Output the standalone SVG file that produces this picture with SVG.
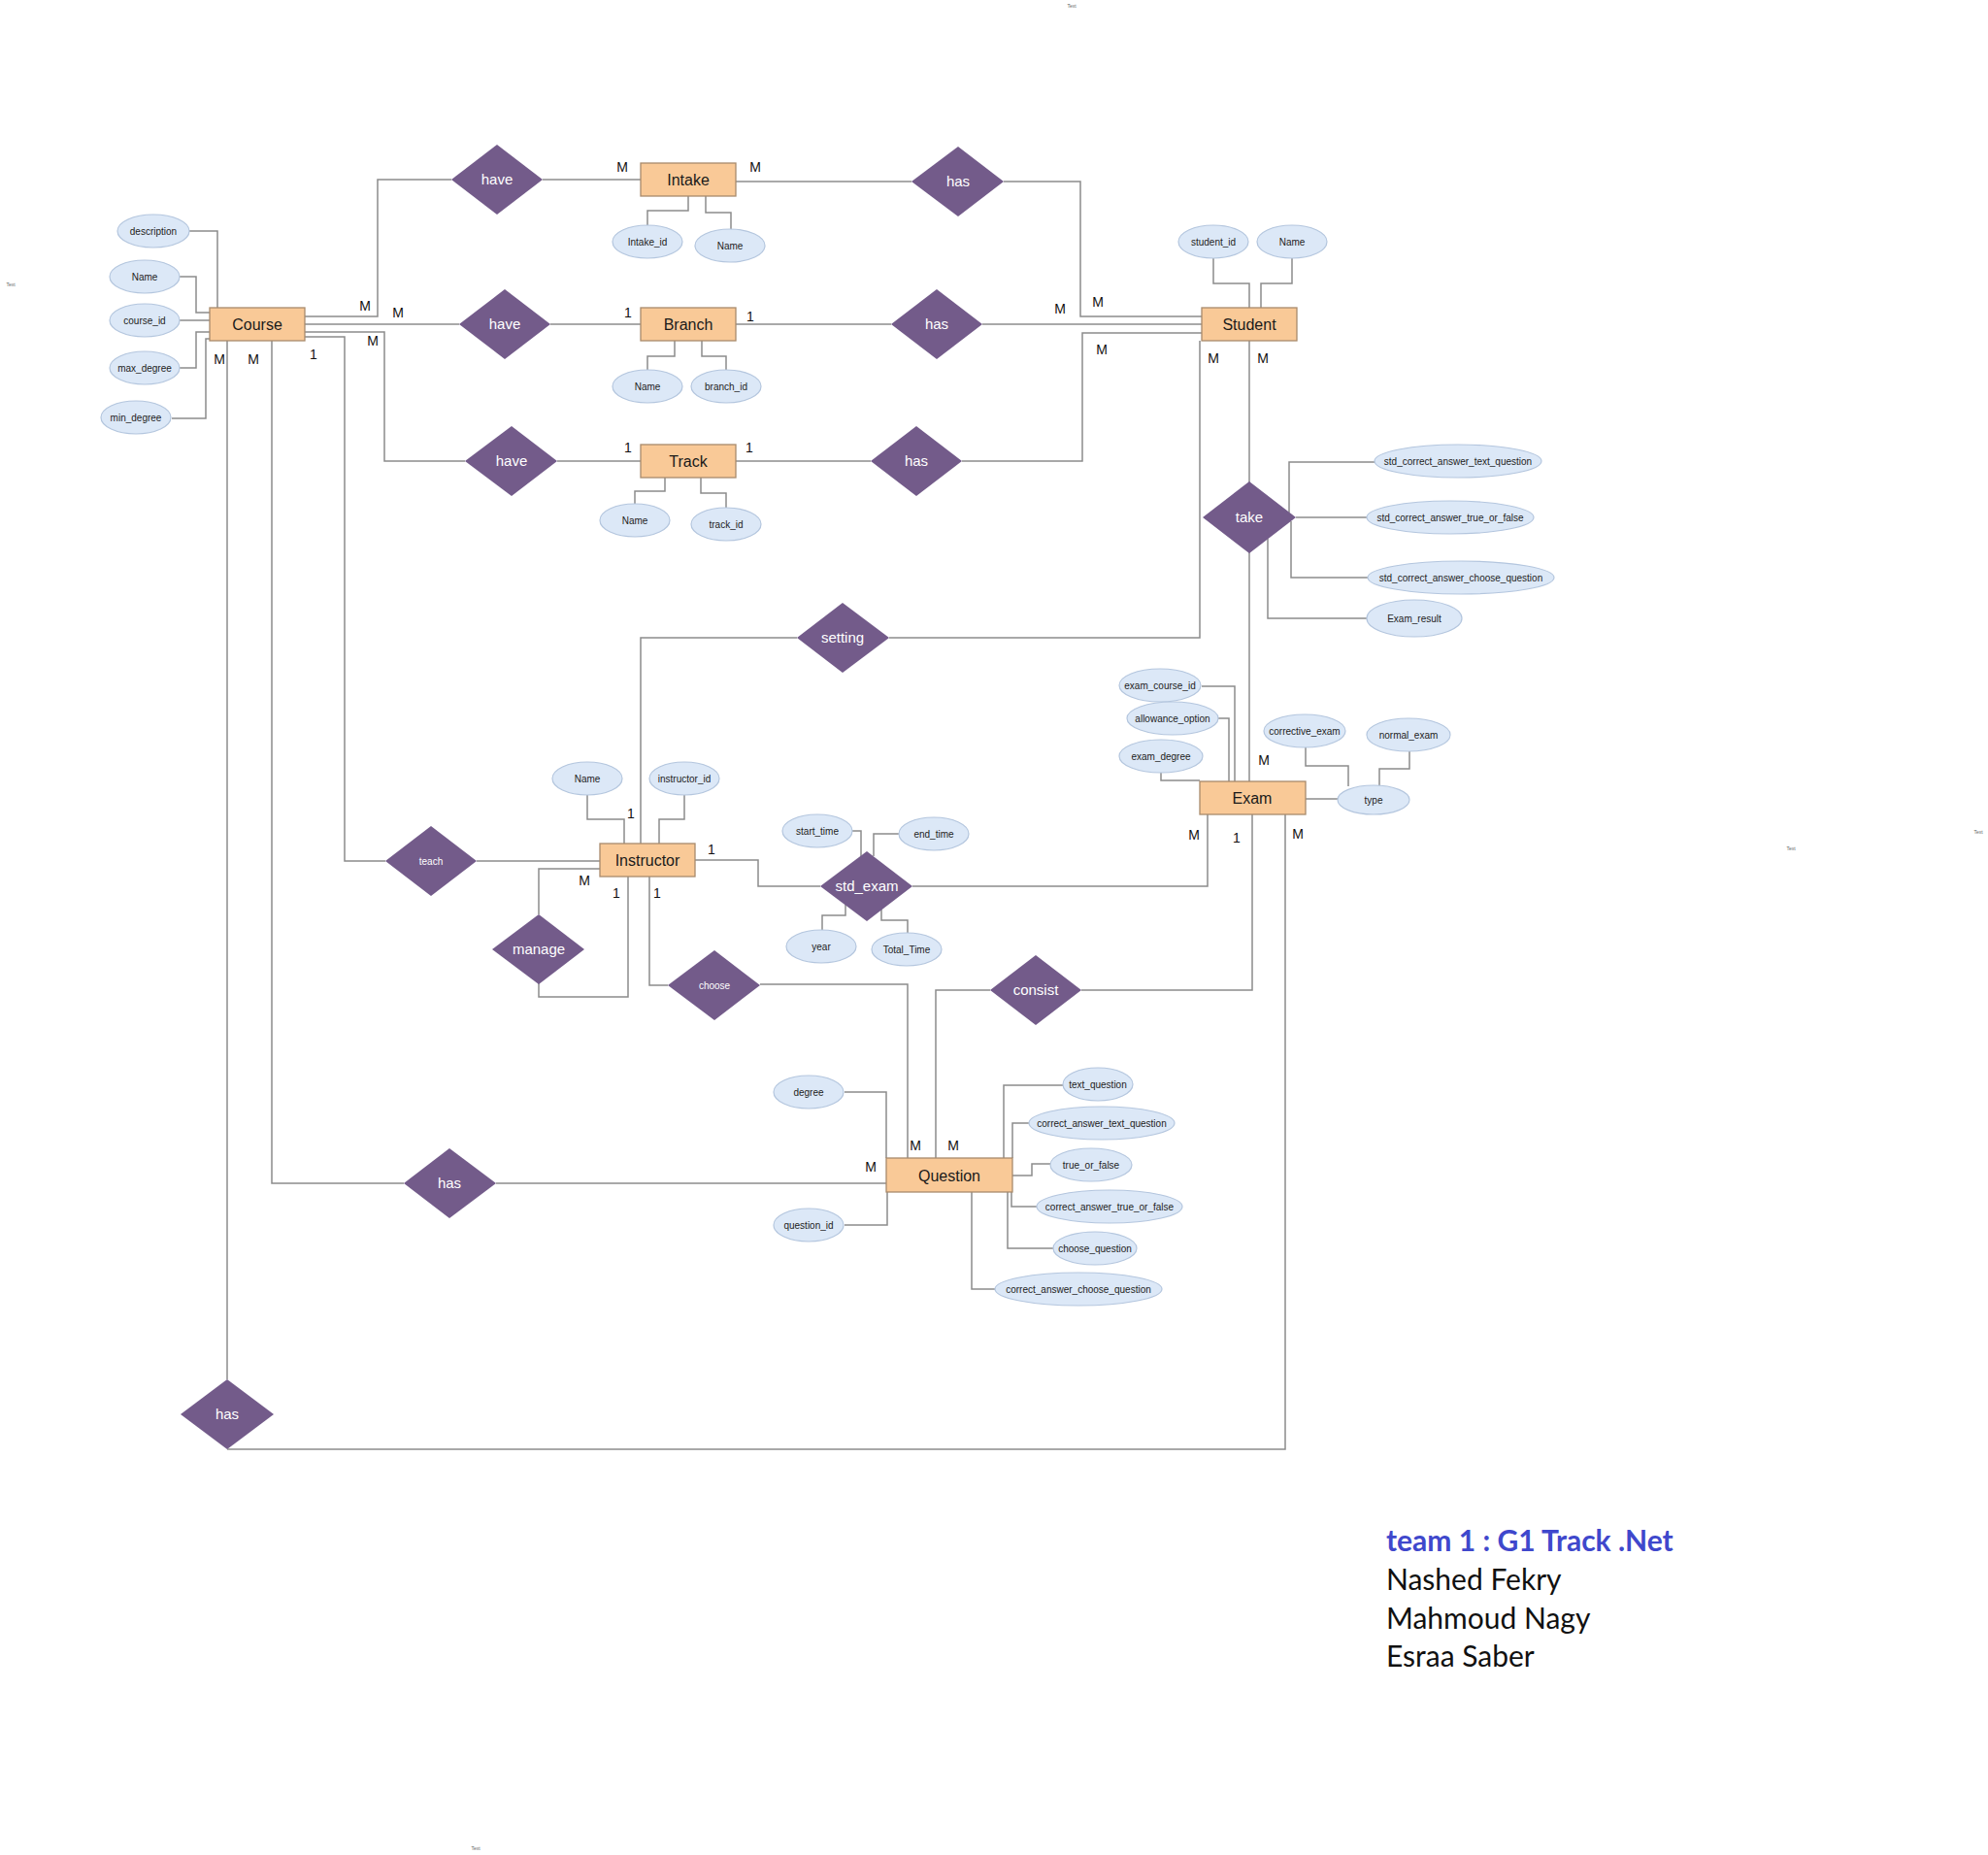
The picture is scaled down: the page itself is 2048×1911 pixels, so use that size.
<svg xmlns="http://www.w3.org/2000/svg" width="2048" height="1911" viewBox="0 0 2048 1911">
  <style>
    .ent rect { fill: #f9c997; stroke: #a88a6c; stroke-width: 1.3; }
    .ent text { font-family: "Liberation Sans", Arial, sans-serif; font-size: 16px; fill: #1a1a1a; text-anchor: middle; }
    .att ellipse { fill: #dce8f7; stroke: #b4c6de; stroke-width: 1.2; }
    .att text { font-family: "Liberation Sans", Arial, sans-serif; font-size: 10px; fill: #222; text-anchor: middle; }
    .rel polygon { fill: #735b8a; stroke: none; }
    .rel text { font-family: "Liberation Sans", Arial, sans-serif; font-size: 15px; fill: #ffffff; text-anchor: middle; }
    .rel text.sm { font-size: 10px; }
    #connectors polyline { fill: none; stroke: #8c8c8c; stroke-width: 1.5; }
    .card { font-family: "Liberation Sans", Arial, sans-serif; font-size: 14px; fill: #111; text-anchor: middle; }
    .tiny { font-family: "Liberation Sans", Arial, sans-serif; font-size: 5px; fill: #666; text-anchor: middle; }
    .team { font-family: Lato, "Open Sans", sans-serif; font-size: 30px; fill: #111; }
    .team.title { fill: #3f48cc; font-weight: bold; }
  </style>

  <rect width="2048" height="1911" fill="#ffffff"/>

  <!-- relationship and attribute lines -->
  <g id="connectors">
    <!-- Course relationships -->
    <polyline points="314,326 389,326 389,185 465,185"/>
    <polyline points="559,185 660,185"/>
    <polyline points="758,187 939,187"/>
    <polyline points="1034,187 1113,187 1113,326 1238,326"/>
    <polyline points="314,334 473,334"/>
    <polyline points="567,334 660,334"/>
    <polyline points="758,334 918,334"/>
    <polyline points="1012,334 1238,334"/>
    <polyline points="314,342 396,342 396,475 479,475"/>
    <polyline points="574,475 660,475"/>
    <polyline points="758,475 897,475"/>
    <polyline points="991,475 1115,475 1115,343 1238,343"/>
    <!-- Student relationships -->
    <polyline points="1287,351 1287,497"/>
    <polyline points="1287,569 1287,805"/>
    <polyline points="1236,351 1236,657 916,657"/>
    <polyline points="821,657 660,657 660,869"/>
    <!-- Instructor relationships -->
    <polyline points="314,347 355,347 355,887 397,887"/>
    <polyline points="491,887 618,887"/>
    <polyline points="618,895 555,895 555,942"/>
    <polyline points="555,1013 555,1027 647,1027 647,903"/>
    <polyline points="669,903 669,1015 688,1015"/>
    <polyline points="783,1014 935,1014 935,1193"/>
    <polyline points="716,886 781,886 781,913 845,913"/>
    <polyline points="940,913 1244,913 1244,839"/>
    <!-- Exam / Question relationships -->
    <polyline points="1290,839 1290,1020 1114,1020"/>
    <polyline points="1020,1020 964,1020 964,1193"/>
    <polyline points="280,351 280,1219 416,1219"/>
    <polyline points="511,1219 913,1219"/>
    <polyline points="234,351 234,1421"/>
    <polyline points="234,1493 1324,1493 1324,839"/>

    <!-- attribute links -->
    <polyline points="195,238 224,238 224,317"/>
    <polyline points="185,285 202,285 202,322 216,322"/>
    <polyline points="185,330 216,330"/>
    <polyline points="185,379 202,379 202,342 216,342"/>
    <polyline points="177,431 212,431 212,349 216,349"/>
    <polyline points="709,202 709,217 667,217 667,233"/>
    <polyline points="727,202 727,219 753,219 753,237"/>
    <polyline points="695,351 695,367 667,367 667,382"/>
    <polyline points="723,351 723,367 748,367 748,382"/>
    <polyline points="685,492 685,506 654,506 654,520"/>
    <polyline points="722,492 722,508 748,508 748,523"/>
    <polyline points="1250,266 1250,292 1287,292 1287,317"/>
    <polyline points="1331,266 1331,292 1299,292 1299,317"/>
    <polyline points="1328,528 1328,476 1417,476"/>
    <polyline points="1335,533 1408,533"/>
    <polyline points="1330,537 1330,595 1409,595"/>
    <polyline points="1306,555 1306,637 1408,637"/>
    <polyline points="1238,707 1272,707 1272,805"/>
    <polyline points="1254,740 1266,740 1266,805"/>
    <polyline points="1196,796 1196,804 1236,804"/>
    <polyline points="1345,823 1379,823"/>
    <polyline points="1345,770 1345,789 1389,789 1389,810"/>
    <polyline points="1452,774 1452,792 1421,792 1421,810"/>
    <polyline points="605,818 605,844 643,844 643,869"/>
    <polyline points="705,818 705,844 679,844 679,869"/>
    <polyline points="878,856 887,856 887,882"/>
    <polyline points="926,859 900,859 900,882"/>
    <polyline points="871,932 871,943 847,943 847,958"/>
    <polyline points="908,937 908,948 935,948 935,961"/>
    <polyline points="870,1125 913,1125 913,1193"/>
    <polyline points="870,1262 914,1262 914,1228"/>
    <polyline points="1095,1118 1034,1118 1034,1193"/>
    <polyline points="1061,1157 1043,1157 1043,1193"/>
    <polyline points="1082,1199 1063,1199 1063,1211 1043,1211"/>
    <polyline points="1068,1243 1042,1243 1042,1228"/>
    <polyline points="1086,1286 1038,1286 1038,1228"/>
    <polyline points="1026,1328 1001,1328 1001,1228"/>
  </g>

  <!-- entities -->
  <g id="course" class="ent"><rect x="216" y="317" width="98" height="34"/><text x="265" y="340">Course</text></g>
  <g id="intake" class="ent"><rect x="660" y="168" width="98" height="34"/><text x="709" y="191">Intake</text></g>
  <g id="branch" class="ent"><rect x="660" y="317" width="98" height="34"/><text x="709" y="340">Branch</text></g>
  <g id="track" class="ent"><rect x="660" y="458" width="98" height="34"/><text x="709" y="481">Track</text></g>
  <g id="student" class="ent"><rect x="1238" y="317" width="98" height="34"/><text x="1287" y="340">Student</text></g>
  <g id="instructor" class="ent"><rect x="618" y="869" width="98" height="34"/><text x="667" y="892">Instructor</text></g>
  <g id="exam" class="ent"><rect x="1236" y="805" width="109" height="34"/><text x="1290" y="828">Exam</text></g>
  <g id="question" class="ent"><rect x="913" y="1193" width="130" height="35"/><text x="978" y="1217">Question</text></g>

  <!-- relationships -->
  <g id="rel-have-intake" class="rel"><polygon points="465,185 512,149 559,185 512,221"/><text x="512" y="190">have</text></g>
  <g id="rel-have-branch" class="rel"><polygon points="473,334 520,298 567,334 520,370"/><text x="520" y="339">have</text></g>
  <g id="rel-have-track" class="rel"><polygon points="479,475 527,439 574,475 527,511"/><text x="527" y="480">have</text></g>
  <g id="rel-has-intake" class="rel"><polygon points="939,187 987,151 1034,187 987,223"/><text x="987" y="192">has</text></g>
  <g id="rel-has-branch" class="rel"><polygon points="918,334 965,298 1012,334 965,370"/><text x="965" y="339">has</text></g>
  <g id="rel-has-track" class="rel"><polygon points="897,475 944,439 991,475 944,511"/><text x="944" y="480">has</text></g>
  <g id="rel-take" class="rel"><polygon points="1239,533 1287,496 1335,533 1287,570"/><text x="1287" y="538">take</text></g>
  <g id="rel-setting" class="rel"><polygon points="821,657 868,621 916,657 868,693"/><text x="868" y="662">setting</text></g>
  <g id="rel-teach" class="rel"><polygon points="397,887 444,851 491,887 444,923"/><text class="sm" x="444" y="891">teach</text></g>
  <g id="rel-manage" class="rel"><polygon points="507,978 555,942 602,978 555,1014"/><text x="555" y="983">manage</text></g>
  <g id="rel-choose" class="rel"><polygon points="688,1015 736,979 783,1015 736,1051"/><text class="sm" x="736" y="1019">choose</text></g>
  <g id="rel-std-exam" class="rel"><polygon points="845,913 893,877 940,913 893,949"/><text x="893" y="918">std_exam</text></g>
  <g id="rel-consist" class="rel"><polygon points="1020,1020 1067,984 1114,1020 1067,1056"/><text x="1067" y="1025">consist</text></g>
  <g id="rel-has-question" class="rel"><polygon points="416,1219 463,1183 511,1219 463,1255"/><text x="463" y="1224">has</text></g>
  <g id="rel-has-exam" class="rel"><polygon points="186,1457 234,1421 282,1457 234,1493"/><text x="234" y="1462">has</text></g>

  <!-- attributes -->
  <g id="att-course-description" class="att"><ellipse cx="158" cy="238" rx="37" ry="17"/><text x="158" y="241.5">description</text></g>
  <g id="att-course-name" class="att"><ellipse cx="149" cy="285" rx="36" ry="17"/><text x="149" y="288.5">Name</text></g>
  <g id="att-course-id" class="att"><ellipse cx="149" cy="330" rx="36" ry="17"/><text x="149" y="333.5">course_id</text></g>
  <g id="att-course-max" class="att"><ellipse cx="149" cy="379" rx="36" ry="17"/><text x="149" y="382.5">max_degree</text></g>
  <g id="att-course-min" class="att"><ellipse cx="140" cy="430" rx="36" ry="17"/><text x="140" y="433.5">min_degree</text></g>
  <g id="att-intake-id" class="att"><ellipse cx="667" cy="249" rx="36" ry="17"/><text x="667" y="252.5">Intake_id</text></g>
  <g id="att-intake-name" class="att"><ellipse cx="752" cy="253" rx="36" ry="17"/><text x="752" y="256.5">Name</text></g>
  <g id="att-branch-name" class="att"><ellipse cx="667" cy="398" rx="36" ry="17"/><text x="667" y="401.5">Name</text></g>
  <g id="att-branch-id" class="att"><ellipse cx="748" cy="398" rx="36" ry="17"/><text x="748" y="401.5">branch_id</text></g>
  <g id="att-track-name" class="att"><ellipse cx="654" cy="536" rx="36" ry="17"/><text x="654" y="539.5">Name</text></g>
  <g id="att-track-id" class="att"><ellipse cx="748" cy="540" rx="36" ry="17"/><text x="748" y="543.5">track_id</text></g>
  <g id="att-student-id" class="att"><ellipse cx="1250" cy="249" rx="36" ry="17"/><text x="1250" y="252.5">student_id</text></g>
  <g id="att-student-name" class="att"><ellipse cx="1331" cy="249" rx="36" ry="17"/><text x="1331" y="252.5">Name</text></g>
  <g id="att-take-text" class="att"><ellipse cx="1502" cy="475" rx="86" ry="17"/><text x="1502" y="478.5">std_correct_answer_text_question</text></g>
  <g id="att-take-tf" class="att"><ellipse cx="1494" cy="533" rx="86" ry="17"/><text x="1494" y="536.5">std_correct_answer_true_or_false</text></g>
  <g id="att-take-choose" class="att"><ellipse cx="1505" cy="595" rx="96" ry="17"/><text x="1505" y="598.5">std_correct_answer_choose_question</text></g>
  <g id="att-take-result" class="att"><ellipse cx="1457" cy="637" rx="49" ry="19"/><text x="1457" y="640.5">Exam_result</text></g>
  <g id="att-exam-course" class="att"><ellipse cx="1195" cy="706" rx="42" ry="17"/><text x="1195" y="709.5">exam_course_id</text></g>
  <g id="att-exam-allowance" class="att"><ellipse cx="1208" cy="740" rx="47" ry="17"/><text x="1208" y="743.5">allowance_option</text></g>
  <g id="att-exam-degree" class="att"><ellipse cx="1196" cy="779" rx="43" ry="17"/><text x="1196" y="782.5">exam_degree</text></g>
  <g id="att-exam-corrective" class="att"><ellipse cx="1344" cy="753" rx="42" ry="17"/><text x="1344" y="756.5">corrective_exam</text></g>
  <g id="att-exam-normal" class="att"><ellipse cx="1451" cy="757" rx="43" ry="17"/><text x="1451" y="760.5">normal_exam</text></g>
  <g id="att-exam-type" class="att"><ellipse cx="1415" cy="824" rx="37" ry="15"/><text x="1415" y="827.5">type</text></g>
  <g id="att-instructor-name" class="att"><ellipse cx="605" cy="802" rx="36" ry="17"/><text x="605" y="805.5">Name</text></g>
  <g id="att-instructor-id" class="att"><ellipse cx="705" cy="802" rx="36" ry="17"/><text x="705" y="805.5">instructor_id</text></g>
  <g id="att-start-time" class="att"><ellipse cx="842" cy="856" rx="36" ry="17"/><text x="842" y="859.5">start_time</text></g>
  <g id="att-end-time" class="att"><ellipse cx="962" cy="859" rx="36" ry="17"/><text x="962" y="862.5">end_time</text></g>
  <g id="att-year" class="att"><ellipse cx="846" cy="975" rx="36" ry="17"/><text x="846" y="978.5">year</text></g>
  <g id="att-total-time" class="att"><ellipse cx="934" cy="978" rx="36" ry="17"/><text x="934" y="981.5">Total_Time</text></g>
  <g id="att-question-degree" class="att"><ellipse cx="833" cy="1125" rx="36" ry="17"/><text x="833" y="1128.5">degree</text></g>
  <g id="att-question-id" class="att"><ellipse cx="833" cy="1262" rx="36" ry="17"/><text x="833" y="1265.5">question_id</text></g>
  <g id="att-text-question" class="att"><ellipse cx="1131" cy="1117" rx="36" ry="17"/><text x="1131" y="1120.5">text_question</text></g>
  <g id="att-ca-text" class="att"><ellipse cx="1135" cy="1157" rx="75" ry="17"/><text x="1135" y="1160.5">correct_answer_text_question</text></g>
  <g id="att-true-false" class="att"><ellipse cx="1124" cy="1200" rx="42" ry="17"/><text x="1124" y="1203.5">true_or_false</text></g>
  <g id="att-ca-tf" class="att"><ellipse cx="1143" cy="1243" rx="75" ry="17"/><text x="1143" y="1246.5">correct_answer_true_or_false</text></g>
  <g id="att-choose-question" class="att"><ellipse cx="1128" cy="1286" rx="43" ry="17"/><text x="1128" y="1289.5">choose_question</text></g>
  <g id="att-ca-choose" class="att"><ellipse cx="1111" cy="1328" rx="86" ry="17"/><text x="1111" y="1331.5">correct_answer_choose_question</text></g>

  <!-- cardinalities -->
  <g id="cardinalities" class="card">
    <text x="641" y="177">M</text>
    <text x="778" y="177">M</text>
    <text x="376" y="320">M</text>
    <text x="410" y="327">M</text>
    <text x="647" y="327">1</text>
    <text x="773" y="331">1</text>
    <text x="384" y="356">M</text>
    <text x="226" y="375">M</text>
    <text x="261" y="375">M</text>
    <text x="323" y="370">1</text>
    <text x="647" y="466">1</text>
    <text x="772" y="466">1</text>
    <text x="1131" y="316">M</text>
    <text x="1092" y="323">M</text>
    <text x="1135" y="365">M</text>
    <text x="1250" y="374">M</text>
    <text x="1301" y="374">M</text>
    <text x="1302" y="788">M</text>
    <text x="1230" y="865">M</text>
    <text x="1274" y="868">1</text>
    <text x="1337" y="864">M</text>
    <text x="650" y="843">1</text>
    <text x="602" y="912">M</text>
    <text x="635" y="925">1</text>
    <text x="677" y="925">1</text>
    <text x="733" y="880">1</text>
    <text x="943" y="1185">M</text>
    <text x="982" y="1185">M</text>
    <text x="897" y="1207">M</text>
  </g>

  <!-- stray placeholder labels -->
  <g id="placeholders" class="tiny">
    <text x="1104" y="8">Text</text>
    <text x="11" y="295">Text</text>
    <text x="1845" y="876">Text</text>
    <text x="2038" y="859">Text</text>
    <text x="490" y="1906">Text</text>
  </g>

  <!-- team credits -->
  <g id="team">
    <text class="team title" x="1428" y="1598">team 1 : G1 Track .Net</text>
    <text class="team" x="1428" y="1638">Nashed Fekry</text>
    <text class="team" x="1428" y="1678">Mahmoud Nagy</text>
    <text class="team" x="1428" y="1717">Esraa Saber</text>
  </g>
</svg>
